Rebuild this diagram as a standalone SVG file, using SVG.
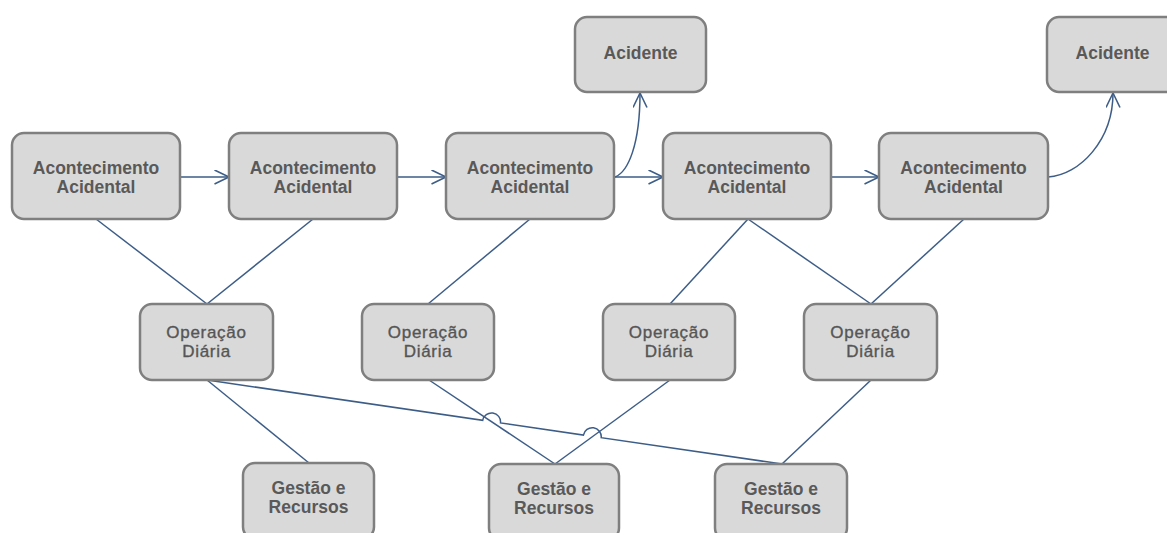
<svg xmlns="http://www.w3.org/2000/svg" width="1167" height="533" viewBox="0 0 1167 533">
  <style>
    .box { fill: #d9d9d9; stroke: #7f7f7f; stroke-width: 2.5; }
    .lbl { font-family: "Liberation Sans", Arial, sans-serif; font-size: 17.5px; font-weight: bold; fill: #595959; text-anchor: middle; }
    .reg { font-size: 17px; font-weight: normal; letter-spacing: 0.7px; fill: #555555; stroke: #555555; stroke-width: 0.35; }
    .link { fill: none; stroke: #3d5d87; stroke-width: 1.5; }
  </style>
  <defs>
    <marker id="chevron" markerUnits="userSpaceOnUse" markerWidth="18" markerHeight="18" refX="15" refY="7.5" orient="auto">
      <path d="M0.5,0.5 L15,7.5 L0.5,14.5" fill="none" stroke="#3d5d87" stroke-width="1.6"/>
    </marker>
  </defs>
  <rect width="1167" height="533" fill="#ffffff"/>

  <!-- connectors -->
  <g id="connectors">
    <!-- event chain -->
    <path class="link" d="M180,177 L229,177" marker-end="url(#chevron)"/>
    <path class="link" d="M397,177 L446,177" marker-end="url(#chevron)"/>
    <path class="link" d="M614,177 L663,177" marker-end="url(#chevron)"/>
    <path class="link" d="M831,177 L879,177" marker-end="url(#chevron)"/>
    <path class="link" d="M615,177 C628,172 640,145 640,93" marker-end="url(#chevron)"/>
    <path class="link" d="M1048,177 C1080,175 1113,140 1113,93" marker-end="url(#chevron)"/>
    <!-- events to daily operation -->
    <path class="link" d="M96,219 L207,304"/>
    <path class="link" d="M313,219 L207,304"/>
    <path class="link" d="M530,219 L428,304"/>
    <path class="link" d="M748,219 L670,304"/>
    <path class="link" d="M748,219 L871,304"/>
    <path class="link" d="M964,219 L871,304"/>
    <!-- daily operation to management -->
    <path class="link" d="M207,380 L309,463"/>
    <path class="link" d="M429,380 L555,464"/>
    <path class="link" d="M670,380 L555,464"/>
    <path class="link" d="M871,380 L782,464"/>
    <path class="link" d="M207,380 L482.7,420.3 A9,9 0 0 1 500.5,422.9 L583.4,435.1 A9,9 0 0 1 601.2,437.7 L782,464"/>
  </g>

  <!-- accidental events -->
  <g id="evento1">
    <rect class="box" x="12" y="133" width="168" height="86" rx="12"/>
    <text class="lbl" x="96" y="174">Acontecimento</text>
    <text class="lbl" x="96" y="193">Acidental</text>
  </g>
  <g id="evento2">
    <rect class="box" x="229" y="133" width="168" height="86" rx="12"/>
    <text class="lbl" x="313" y="174">Acontecimento</text>
    <text class="lbl" x="313" y="193">Acidental</text>
  </g>
  <g id="evento3">
    <rect class="box" x="446" y="133" width="168" height="86" rx="12"/>
    <text class="lbl" x="530" y="174">Acontecimento</text>
    <text class="lbl" x="530" y="193">Acidental</text>
  </g>
  <g id="evento4">
    <rect class="box" x="663" y="133" width="168" height="86" rx="12"/>
    <text class="lbl" x="747" y="174">Acontecimento</text>
    <text class="lbl" x="747" y="193">Acidental</text>
  </g>
  <g id="evento5">
    <rect class="box" x="879" y="133" width="169" height="86" rx="12"/>
    <text class="lbl" x="963.5" y="174">Acontecimento</text>
    <text class="lbl" x="963.5" y="193">Acidental</text>
  </g>

  <!-- accidents -->
  <g id="acidente1">
    <rect class="box" x="575" y="17" width="131" height="75" rx="12"/>
    <text class="lbl" x="640.5" y="59">Acidente</text>
  </g>
  <g id="acidente2">
    <rect class="box" x="1047" y="17" width="131" height="75" rx="12"/>
    <text class="lbl" x="1112.5" y="59">Acidente</text>
  </g>

  <!-- daily operation -->
  <g id="operacao1">
    <rect class="box" x="140" y="304" width="133" height="76" rx="12"/>
    <text class="lbl reg" x="206.5" y="338">Operação</text>
    <text class="lbl reg" x="206.5" y="357">Diária</text>
  </g>
  <g id="operacao2">
    <rect class="box" x="362" y="304" width="132" height="76" rx="12"/>
    <text class="lbl reg" x="428" y="338">Operação</text>
    <text class="lbl reg" x="428" y="357">Diária</text>
  </g>
  <g id="operacao3">
    <rect class="box" x="603" y="304" width="132" height="76" rx="12"/>
    <text class="lbl reg" x="669" y="338">Operação</text>
    <text class="lbl reg" x="669" y="357">Diária</text>
  </g>
  <g id="operacao4">
    <rect class="box" x="804" y="304" width="133" height="76" rx="12"/>
    <text class="lbl reg" x="870.5" y="338">Operação</text>
    <text class="lbl reg" x="870.5" y="357">Diária</text>
  </g>

  <!-- management and resources -->
  <g id="gestao1">
    <rect class="box" x="243" y="463" width="131" height="76" rx="12"/>
    <text class="lbl" x="308.5" y="494">Gestão e</text>
    <text class="lbl" x="308.5" y="513">Recursos</text>
  </g>
  <g id="gestao2">
    <rect class="box" x="489" y="464" width="130" height="76" rx="12"/>
    <text class="lbl" x="554" y="495">Gestão e</text>
    <text class="lbl" x="554" y="514">Recursos</text>
  </g>
  <g id="gestao3">
    <rect class="box" x="715" y="464" width="132" height="76" rx="12"/>
    <text class="lbl" x="781" y="495">Gestão e</text>
    <text class="lbl" x="781" y="514">Recursos</text>
  </g>
</svg>
